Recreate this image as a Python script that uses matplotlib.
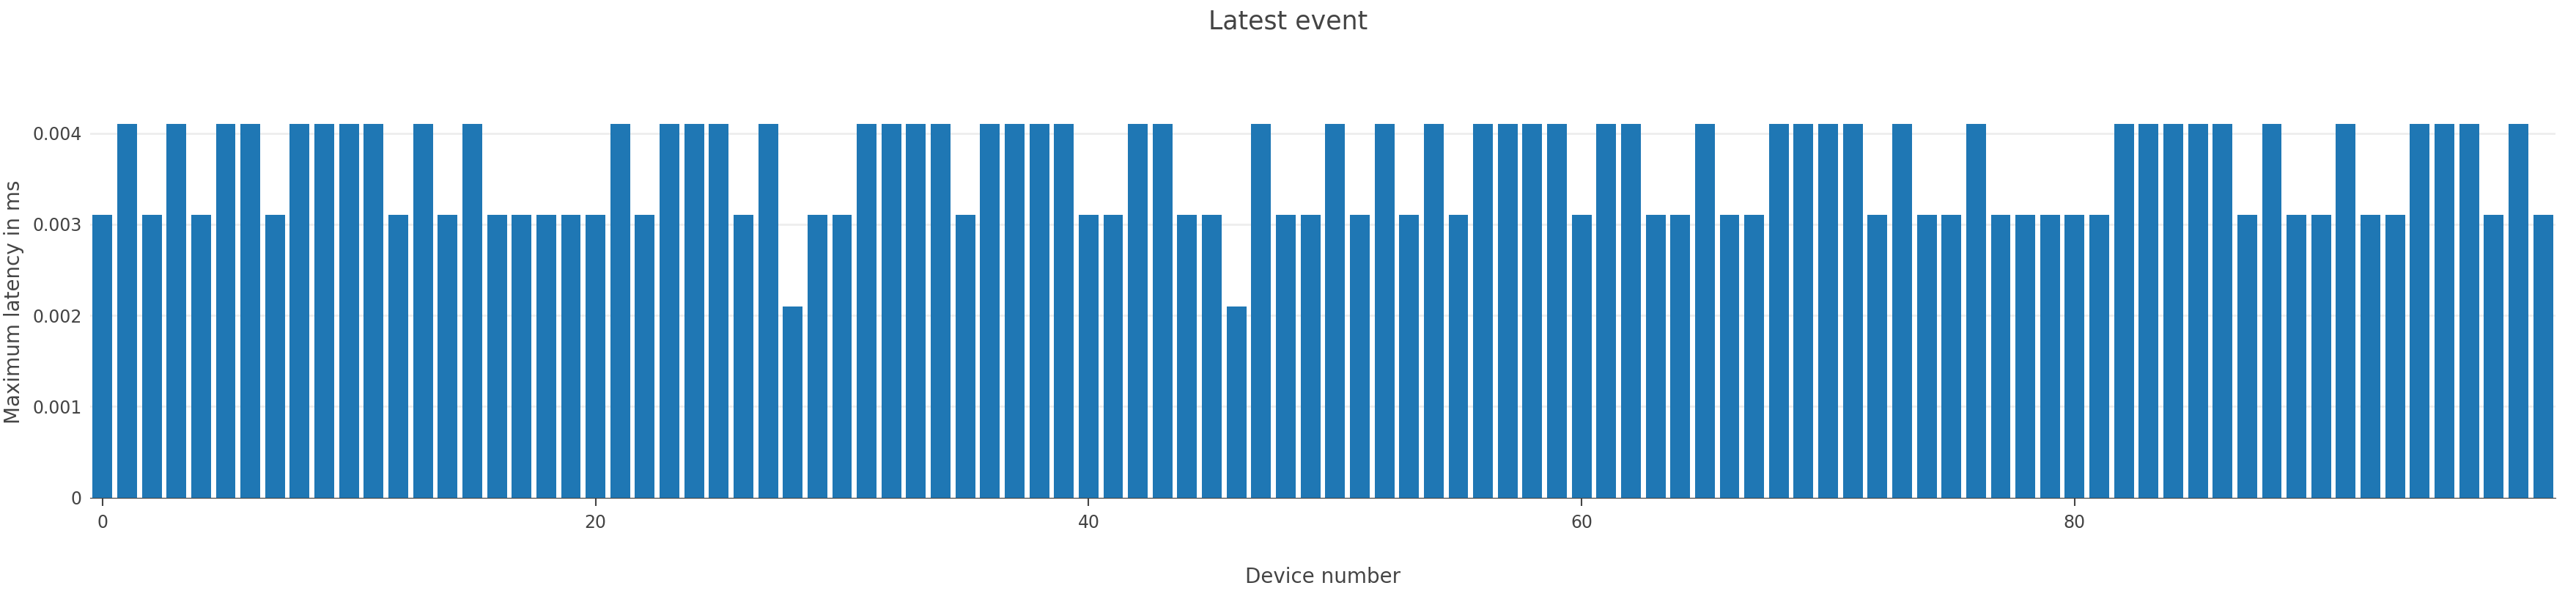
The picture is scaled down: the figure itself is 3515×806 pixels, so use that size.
import numpy as np
import matplotlib.pyplot as plt

# latency per device, in ms
tall = [1, 3, 5, 6, 8, 9, 10, 11, 13, 15, 21, 23, 24, 25, 27, 31, 32, 33, 34,
        36, 37, 38, 39, 42, 43, 47, 50, 52, 54, 56, 57, 58, 59, 61, 62, 65,
        68, 69, 70, 71, 73, 76, 82, 83, 84, 85, 86, 88, 91, 94, 95, 96, 98]
low = [28, 46]
devices = np.arange(100)
latency = [0.0041 if d in tall else 0.0021 if d in low else 0.0031 for d in devices]

fig = plt.figure(figsize=(35.15, 8.06), dpi=100)
ax = fig.add_axes([0.035, 0.158, 0.957, 0.663])
ax.bar(devices, latency, width=0.8, color="#1f77b4", zorder=2)

ax.set_xlim(-0.5, 99.5)
ax.set_ylim(0, 0.0043)
ax.set_xticks([0, 20, 40, 60, 80])
ax.set_yticks([0, 0.001, 0.002, 0.003, 0.004])
ax.set_yticklabels(["0", "0.001", "0.002", "0.003", "0.004"])
ax.grid(axis="y", color="#eeeeee", linewidth=2, zorder=0)
for s in ["top", "right", "left"]:
    ax.spines[s].set_visible(False)
ax.spines["bottom"].set_color("#444444")
ax.tick_params(axis="both", labelsize=17, colors="#444444", length=0, pad=8)
ax.tick_params(axis="x", length=8, width=1.5)

ax.set_xlabel("Device number", fontsize=20, color="#444444", labelpad=35)
ax.set_ylabel("Maximum latency in ms", fontsize=20, color="#444444", labelpad=8)
fig.suptitle("Latest event", fontsize=25, color="#444444", y=0.985)

fig.savefig("out.png", dpi=100, facecolor="white")
